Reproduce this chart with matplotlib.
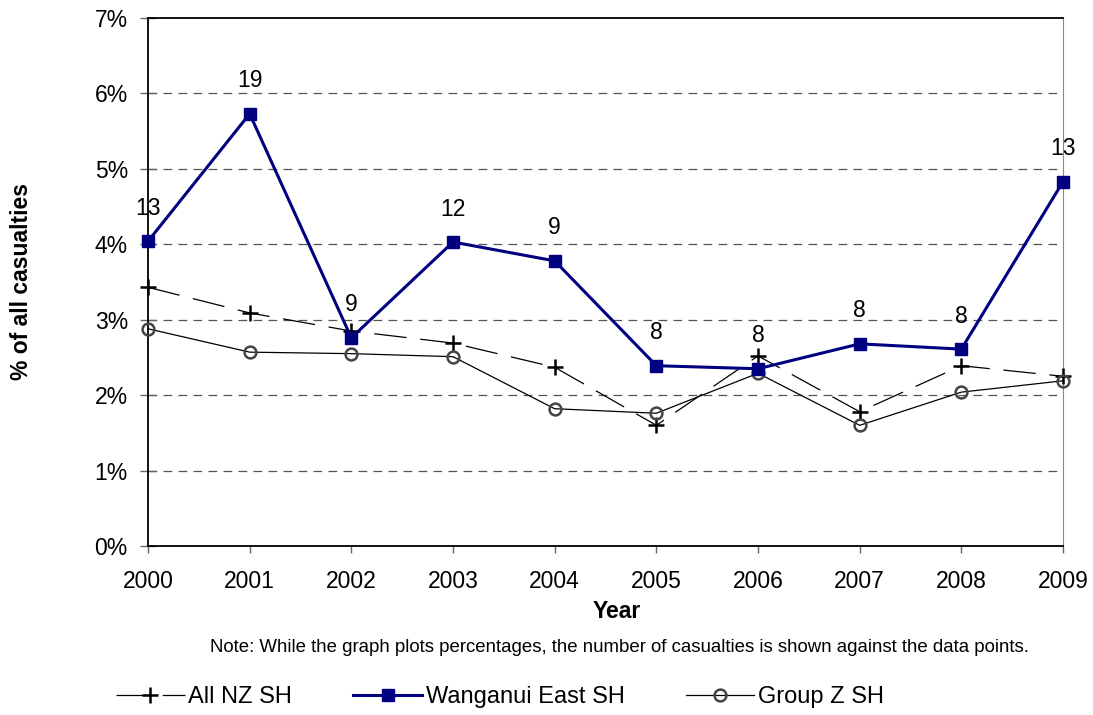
import matplotlib
matplotlib.use('Agg')
import matplotlib.pyplot as plt
from matplotlib.ticker import FuncFormatter

plt.rcParams['font.family'] = ['Liberation Sans', 'DejaVu Sans']

years = [2000, 2001, 2002, 2003, 2004, 2005, 2006, 2007, 2008, 2009]
all_nz = [3.43, 3.09, 2.85, 2.69, 2.37, 1.60, 2.52, 1.78, 2.39, 2.25]
wanganui = [4.04, 5.73, 2.76, 4.03, 3.78, 2.39, 2.35, 2.68, 2.61, 4.83]
group_z = [2.88, 2.57, 2.55, 2.51, 1.82, 1.76, 2.29, 1.60, 2.04, 2.19]
casualties = [13, 19, 9, 12, 9, 8, 8, 8, 8, 13]

W, H = 1093, 715
fig = plt.figure(figsize=(W / 100, H / 100), dpi=100)
ax = fig.add_axes([148 / W, 1 - 546 / H, (1063 - 148) / W, (546 - 18) / H])

for v in range(1, 7):
    ax.axhline(v, color='#555555', lw=0.9, ls=(0, (7, 5)), zorder=1)

ax.plot(years, all_nz, color='black', lw=0.9, ls=(0, (26, 11)), marker='+',
        ms=12, mew=1.8, label='All NZ SH', zorder=3, clip_on=False)
ax.plot(years, wanganui, color='#000080', lw=2.2, marker='s', ms=9,
        label='Wanganui East SH', zorder=4, clip_on=False)
ax.plot(years, group_z, color='black', lw=0.9, marker='o', ms=8.5, mfc='none',
        mec='#444444', mew=1.8, label='Group Z SH', zorder=3, clip_on=False)

# casualty counts shown above the Wanganui points
for x, y, n in zip(years, wanganui, casualties):
    ax.annotate(str(n), (x, y), xytext=(0, 19), textcoords='offset points',
                ha='center', va='baseline', fontsize=16.5, zorder=5)

ax.set_xlim(2000, 2009)
ax.set_ylim(0, 7)
ax.set_xticks(years)
ax.set_yticks(range(0, 8))
ax.yaxis.set_major_formatter(FuncFormatter(lambda v, p: f'{int(v)}%'))
ax.tick_params(labelsize=16.5)
ax.tick_params(axis='x', direction='out', length=5, width=1, color='#666666', pad=12)
ax.tick_params(axis='y', direction='inout', length=11, width=1, color='#666666', pad=9)
for s in ['left', 'bottom', 'top']:
    ax.spines[s].set_color('black')
    ax.spines[s].set_linewidth(1.3)
ax.spines['right'].set_color('#888888')

fig.text(617 / W, 1 - 611 / H, 'Year', ha='center', va='center',
         fontsize=16.5, fontweight='bold')
fig.text(22 / W, 1 - 282 / H, '% of all casualties', rotation=90, ha='center',
         va='center', fontsize=16.5, fontweight='bold')

fig.text(619 / W, 1 - 648 / H,
         'Note: While the graph plots percentages, the number of casualties is shown against the data points.',
         ha='center', va='center', fontsize=13.4)

fig.legend(loc='center', bbox_to_anchor=(500 / W, 1 - 697 / H), ncol=3,
           frameon=False, fontsize=17, handlelength=2.9, columnspacing=2.6,
           handletextpad=0.15)

fig.savefig('out.png', dpi=100)
